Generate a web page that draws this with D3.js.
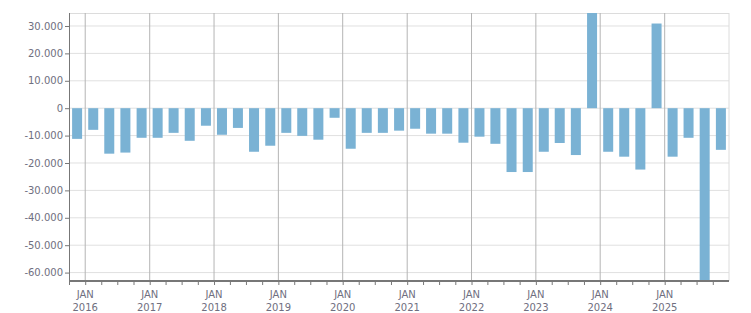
<!DOCTYPE html>
<html>
<head>
<meta charset="utf-8">
<script src="https://cdn.jsdelivr.net/npm/d3@7"></script>
<style>
  body { margin: 0; background: #fff; }
  svg { display: block; }
  text { font-family: "DejaVu Sans", Verdana, sans-serif; font-size: 10px; fill: #6f6f80; }
</style>
</head>
<body>
<svg id="chart" width="751" height="313"></svg>
<script>
// quarterly values, Q4 2015 .. Q4 2025
var quarters = ["2015-10","2016-01","2016-04","2016-07","2016-10","2017-01","2017-04","2017-07","2017-10",
  "2018-01","2018-04","2018-07","2018-10","2019-01","2019-04","2019-07","2019-10","2020-01","2020-04",
  "2020-07","2020-10","2021-01","2021-04","2021-07","2021-10","2022-01","2022-04","2022-07","2022-10",
  "2023-01","2023-04","2023-07","2023-10","2024-01","2024-04","2024-07","2024-10","2025-01","2025-04",
  "2025-07","2025-10"]
var values = [-11200,-7900,-16600,-16200,-10800,-10800,-9000,-11900,-6400,
  -9700,-7200,-15900,-13700,-9000,-10100,-11500,-3500,-14800,-9000,
  -9000,-8200,-7500,-9300,-9300,-12600,-10400,-13000,-23300,-23300,
  -15900,-12700,-17100,36000,-15900,-17700,-22400,30900,-17700,-10800,
  -66000,-15200]
var yTicks = [30000,20000,10000,0,-10000,-20000,-30000,-40000,-50000,-60000]
var xDomain = ["2015-10-01","2026-01-01"]

var margin = {top: 13, right: 22, bottom: 32, left: 69}
  , width = 751 - margin.left - margin.right
  , height = 313 - margin.top - margin.bottom

var parse = d3.utcParse("%Y-%m-%d")
var data = quarters.map(function(q, i) {
  var start = parse(q + "-01")
  return {start: start, end: d3.utcMonth.offset(start, 3), value: values[i]}
})

var x = d3.scaleUtc()
    .domain(xDomain.map(parse))
    .range([0, width])

var y = d3.scaleLinear()
    .domain([-63070, 34740])
    .range([height, 0])

var fmt = d3.formatLocale({decimal: ",", thousands: ".", grouping: [3], currency: ["", ""], minus: "-"}).format(",d")

var svg = d3.select("#chart")
var g = svg.append("g").attr("transform", "translate(" + margin.left + "," + margin.top + ")")

g.append("clipPath").attr("id", "clip")
  .append("rect").attr("width", width).attr("height", height)

// horizontal grid
g.selectAll(".hgrid")
    .data(yTicks)
  .enter().append("line")
    .attr("class", "hgrid")
    .attr("x1", 0).attr("x2", width)
    .attr("y1", function(d) { return y(d) }).attr("y2", function(d) { return y(d) })
    .style("stroke", "#e0e0e0")

// frame top / right
g.append("line").attr("x1", 0).attr("x2", width).attr("y1", 0.5).attr("y2", 0.5).style("stroke", "#dcdcdc")
g.append("line").attr("x1", width).attr("x2", width).attr("y1", 0).attr("y2", height).style("stroke", "#dcdcdc")

// year grid (not at the right edge)
var end = x.domain()[1]
var years = x.ticks(d3.utcYear.every(1)).filter(function(d) { return d < end })
g.selectAll(".vgrid")
    .data(years)
  .enter().append("line")
    .attr("class", "vgrid")
    .attr("x1", function(d) { return x(d) }).attr("x2", function(d) { return x(d) })
    .attr("y1", 0).attr("y2", height)
    .style("stroke", "#b4b4b4")

// bars
var barW = 10
g.append("g").attr("clip-path", "url(#clip)")
  .selectAll(".bar")
    .data(data)
  .enter().append("rect")
    .attr("class", "bar")
    .attr("x", function(d) { return (x(d.start) + x(d.end)) / 2 - barW / 2 })
    .attr("width", barW)
    .attr("y", function(d) { return y(Math.max(0, d.value)) })
    .attr("height", function(d) { return Math.abs(y(d.value) - y(0)) })
    .style("fill", "#7ab2d4")

// y axis
var yAxis = g.append("g")
    .call(d3.axisLeft(y).tickValues(yTicks).tickFormat(fmt).tickSize(4).tickPadding(2))
yAxis.select(".domain").remove()
yAxis.selectAll(".tick line").style("stroke", "#777")
g.append("line").attr("x1", 0.5).attr("x2", 0.5).attr("y1", 0).attr("y2", height).style("stroke", "#777")

// x axis: quarter ticks, year labels
var qTicks = x.ticks(d3.utcMonth.every(3)).filter(function(d) { return d < end })
var xAxis = g.append("g")
    .attr("transform", "translate(0," + height + ")")
    .call(d3.axisBottom(x).tickValues(qTicks).tickSize(4).tickFormat(""))
xAxis.select(".domain").remove()
xAxis.selectAll(".tick line").style("stroke", "#777").attr("y1", 1)
g.append("line").attr("x1", 0).attr("x2", width).attr("y1", height).attr("y2", height)
  .style("stroke", "#777").style("stroke-width", 2)

var lab = g.selectAll(".ylab")
    .data(years)
  .enter().append("text")
    .attr("text-anchor", "middle")
    .attr("transform", function(d) { return "translate(" + x(d) + "," + (height + 17) + ")" })
lab.append("tspan").attr("x", 0).attr("y", 0).text("JAN")
lab.append("tspan").attr("x", 0).attr("y", 13).text(function(d) { return d.getUTCFullYear() })
</script>
</body>
</html>
